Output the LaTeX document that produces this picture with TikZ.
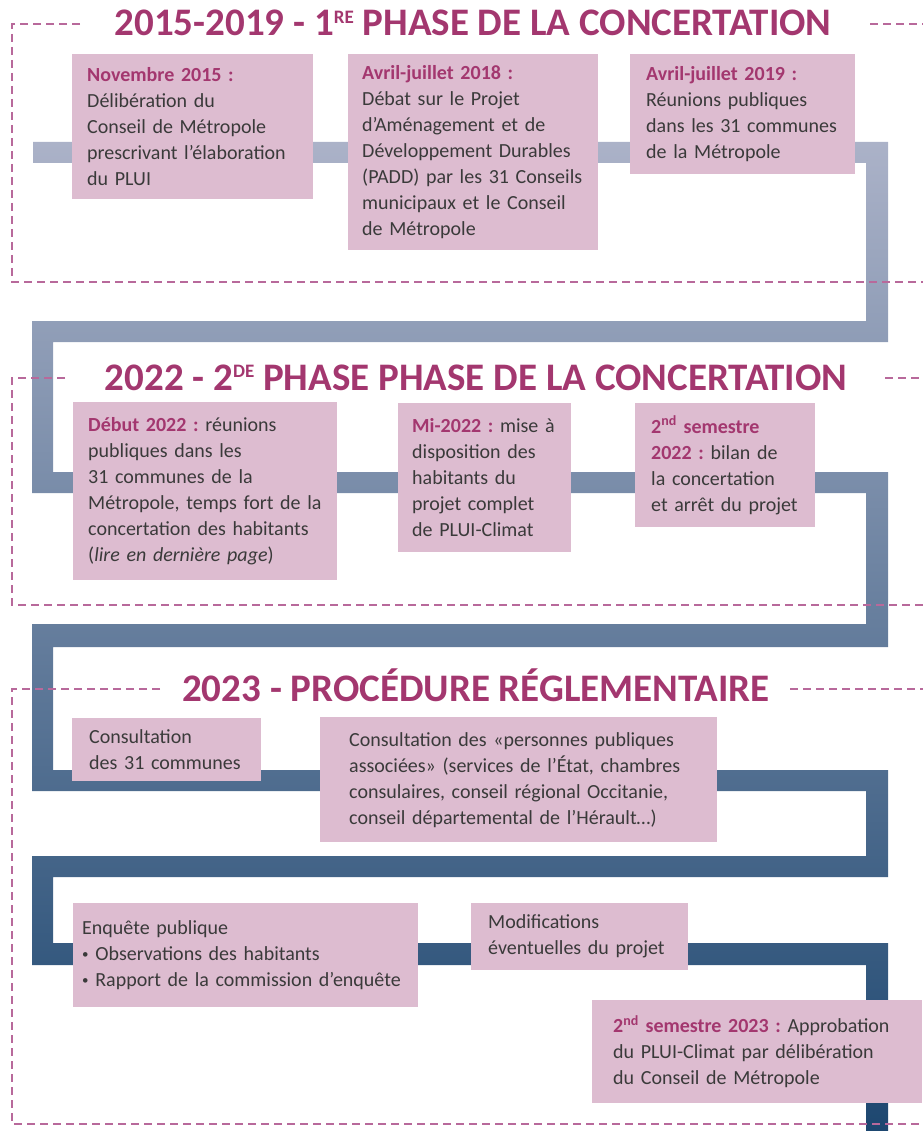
\documentclass[tikz,border=0pt]{standalone}
\usepackage{fontspec}
\setmainfont{Carlito}
\frenchspacing

\definecolor{rose}{HTML}{DDBCD0}
\definecolor{prune}{HTML}{A3376F}
\definecolor{tiret}{HTML}{B8699B}
\definecolor{texte}{HTML}{3A3A3A}
\definecolor{ruban1}{HTML}{ABB2C8}
\definecolor{ruban2}{HTML}{5E6F91}
\definecolor{ruban3}{HTML}{1D4770}

\newcommand{\echeance}[1]{{\color{prune}\bfseries #1}}
\newcommand{\exptitre}[1]{\raisebox{0.33em}{\fontsize{19}{19}\selectfont #1}}
\newcommand{\puce}{\raisebox{0.12em}{\fontsize{13}{13}\selectfont•}}

\tikzset{
  etape/.style={fill=rose, anchor=north west, inner ysep=0pt, inner xsep=15pt,
    align=left, text=texte, font=\fontsize{20}{26}\selectfont},
  titre/.style={anchor=base, inner sep=0pt, text=prune,
    font=\bfseries\fontsize{39}{40}\selectfont},
  cadre/.style={draw=tiret, line width=1.3pt, dash pattern=on 8pt off 5pt},
}

\begin{document}
\begin{tikzpicture}[x=1pt, y=-1pt]
\useasboundingbox (0,0) rectangle (923,1131);

% the ribbon, shaded from top to bottom
\begin{scope}
\clip (33,142) rectangle (888,163)  (866,142) rectangle (888,342)
      (33,321) rectangle (888,342)  (32,321) rectangle (53,493)
      (33,472) rectangle (888,493)  (866,472) rectangle (888,647)
      (33,624) rectangle (888,647)  (32,624) rectangle (53,791)
      (33,770) rectangle (888,791)  (866,770) rectangle (888,877)
      (33,856) rectangle (888,877)  (32,856) rectangle (53,965)
      (33,943) rectangle (888,965)  (866,943) rectangle (888,1131);
\shade[top color=ruban1, middle color=ruban2, bottom color=ruban3]
  (0,142) rectangle (923,1131);
\end{scope}

% dashed frames
\draw[cadre] (80,24) -- (12,24) -- (12,282) -- (923,282);
\draw[cadre] (870,24) -- (923,24);
\draw[cadre] (65,378) -- (12,378) -- (12,605) -- (923,605);
\draw[cadre] (885,378) -- (923,378);
\draw[cadre] (160,689) -- (12,689) -- (12,1124) -- (923,1124);
\draw[cadre] (790,689) -- (923,689);

\node[titre] (t1) at (473,36) {2015-2019 - 1\exptitre{RE} PHASE DE LA CONCERTATION};
\node[titre] (t2) at (476,390) {2022 - 2\exptitre{DE} PHASE PHASE DE LA CONCERTATION};
\node[titre] (t3) at (476,701) {2023 - PROCÉDURE RÉGLEMENTAIRE};

% 2015-2019
\node[etape, minimum width=241, minimum height=145, text width=211] (nov15) at (72,54)
  {\echeance{Novembre 2015 :}\\Délibération du\\Conseil de Métropole\\prescrivant l’élaboration\\du PLUI};
\node[etape, minimum width=250, minimum height=196, text width=222, inner xsep=14pt] (avr18) at (348,54)
  {\echeance{Avril-juillet 2018 :}\\Débat sur le Projet\\d’Aménagement et de\\Développement Durables\\(PADD) par les 31 Conseils\\municipaux et le Conseil\\de Métropole};
\node[etape, minimum width=225, minimum height=120, text width=193, inner xsep=16pt] (avr19) at (630,54)
  {\echeance{Avril-juillet 2019 :}\\Réunions publiques\\dans les 31 communes\\de la Métropole};

% 2022
\node[etape, minimum width=264, minimum height=178, text width=234] (deb22) at (73,402)
  {\echeance{Début 2022 :} réunions\\publiques dans les\\31 communes de la\\Métropole, temps fort de la\\concertation des habitants\\(\textit{lire en dernière page})};
\node[etape, minimum width=173, minimum height=149, text width=145, inner xsep=14pt] (mi22) at (398,403)
  {\echeance{Mi-2022 :} mise à\\disposition des\\habitants du\\projet complet\\de PLUI-Climat};
\node[etape, minimum width=180, minimum height=124, text width=148, inner xsep=16pt] (sem22) at (635,403)
  {\echeance{2\textsuperscript{nd} semestre}\\\echeance{2022 :} bilan de\\la concertation\\et arrêt du projet};

% 2023
\node[etape, minimum width=189, minimum height=63, text width=155, inner xsep=17pt] (com) at (72,718)
  {Consultation\\des 31 communes};
\node[etape, minimum width=397, minimum height=125, text width=339, inner xsep=29pt] (ppa) at (320,717)
  {Consultation des «personnes publiques\\associées» (services de l’État, chambres\\consulaires, conseil régional Occitanie,\\conseil départemental de l’Hérault…)};
\node[etape, minimum width=345, minimum height=104, text width=327, inner xsep=9pt] (enq) at (73,903)
  {Enquête publique\\\puce{} Observations des habitants\\\puce{} Rapport de la commission d’enquête};
\node[etape, minimum width=217, minimum height=67, text width=183, inner xsep=17pt] (modif) at (471,903)
  {Modifications\\éventuelles du projet};
\node[etape, minimum width=330, minimum height=103, text width=288, inner xsep=21pt] (appro) at (592,1000)
  {\echeance{2\textsuperscript{nd} semestre 2023 :} Approbation\\du PLUI-Climat par délibération\\du Conseil de Métropole};
\end{tikzpicture}
\end{document}
